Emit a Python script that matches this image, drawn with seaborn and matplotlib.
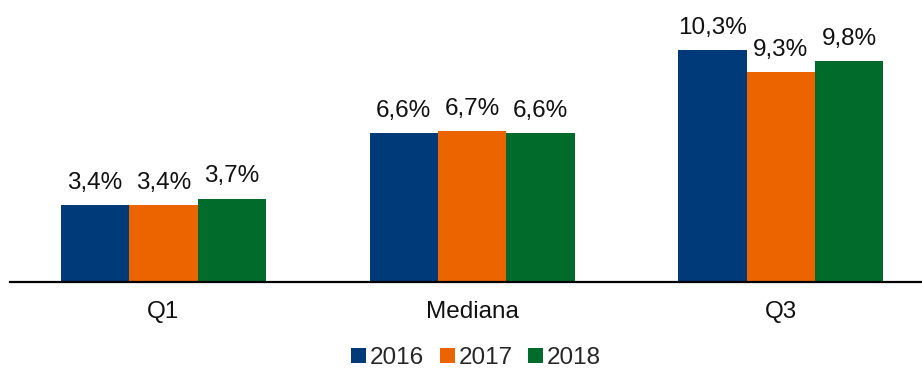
import matplotlib
matplotlib.use("Agg")
import matplotlib.pyplot as plt
import seaborn as sns
import pandas as pd

categories = ["Q1", "Mediana", "Q3"]
years = ["2016", "2017", "2018"]
values_2016 = [3.4, 6.6, 10.3]
values_2017 = [3.4, 6.7, 9.3]
values_2018 = [3.7, 6.6, 9.8]
colors = ["#003A78", "#EB6400", "#006B2A"]

rows = []
for year, vals in zip(years, [values_2016, values_2017, values_2018]):
    for cat, v in zip(categories, vals):
        rows.append({"categoria": cat, "ano": year, "valor": v})
df = pd.DataFrame(rows)

sns.set_theme(style="white")
plt.rcParams["font.family"] = ["Liberation Sans", "DejaVu Sans"]

FS = 17.5

fig = plt.figure(figsize=(9.22, 3.69), dpi=100)
ax = fig.add_axes([10 / 922, 87 / 369, 912 / 922, 282 / 369])

sns.barplot(data=df, x="categoria", y="valor", hue="ano", order=categories,
            hue_order=years, palette=colors, width=0.664, gap=0,
            saturation=1, errorbar=None, linewidth=0, ax=ax, legend=True)

for container in ax.containers:
    labels = [f"{v:.1f}".replace(".", ",") + "%" for v in container.datavalues]
    ax.bar_label(container, labels=labels, padding=8, fontsize=FS, color="#111111")

ax.set_xlim(-0.497, 2.457)
ax.set_ylim(0, 12.5)
ax.set_xlabel("")
ax.set_ylabel("")
ax.set_yticks([])
ax.tick_params(axis="x", length=0, pad=14, labelsize=FS, labelcolor="#111111")
for side in ["top", "right", "left"]:
    ax.spines[side].set_visible(False)
ax.spines["bottom"].set_color("black")
ax.spines["bottom"].set_linewidth(1.6)

handles, labels = ax.get_legend_handles_labels()
ax.legend_.remove()
fig.legend(handles, labels, loc="center", bbox_to_anchor=(476 / 922, 11 / 369),
           ncol=3, frameon=False, fontsize=FS, handlelength=0.62,
           handleheight=0.62, handletextpad=0.15, columnspacing=0.65,
           borderaxespad=0)

fig.savefig("out.png", dpi=100)
